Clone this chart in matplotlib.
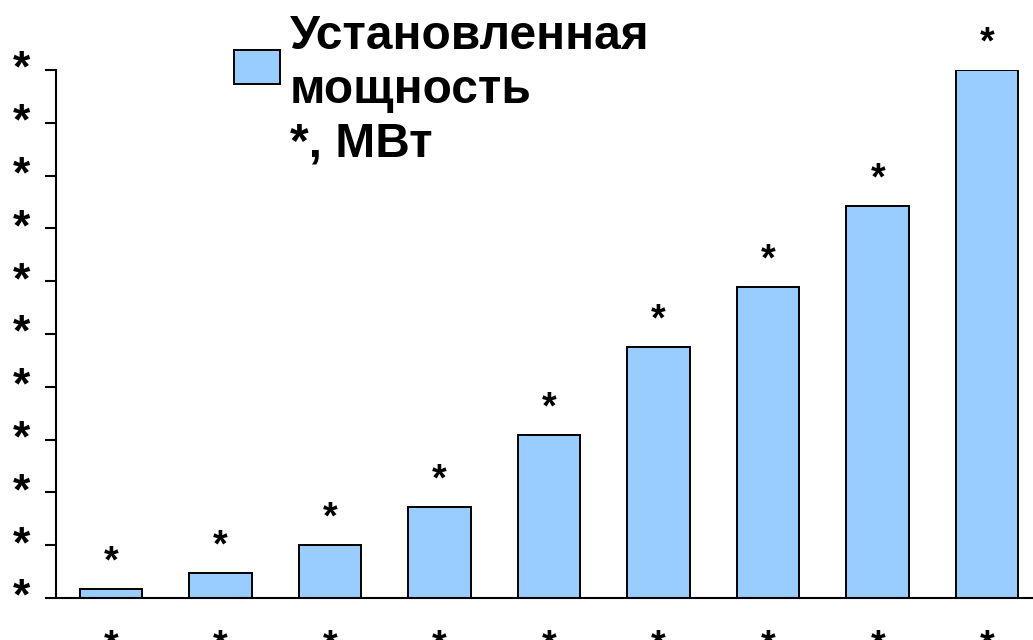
import matplotlib.pyplot as plt
from matplotlib.patches import Rectangle
from matplotlib.transforms import ScaledTranslation

plt.rcParams['font.family'] = ['Liberation Sans', 'DejaVu Sans']
plt.rcParams['font.weight'] = 'bold'

# installed capacity per period (labels hidden as "*")
periods = ['*', '*', '*', '*', '*', '*', '*', '*', '*']
capacity = [1.7, 4.7, 10.0, 17.2, 30.9, 47.5, 58.9, 74.2, 100.0]
bar_labels = ['*'] * len(capacity)
y_ticks = [0, 10, 20, 30, 40, 50, 60, 70, 80, 90, 100]
y_tick_labels = ['*'] * len(y_ticks)
legend_label = 'Установленная\nмощность\n*, МВт'

fig = plt.figure(figsize=(10.33, 6.4), dpi=100)
ax = fig.add_axes([56 / 1033, 42 / 640, 986 / 1033, 528 / 640])

bars = ax.bar(range(len(capacity)), capacity, width=0.57,
              color='#99CCFF', edgecolor='black', linewidth=1.4)
ax.bar_label(bars, labels=bar_labels, padding=6, fontsize=27, fontweight='bold')

ax.set_xlim(-0.5, 8.5)
ax.set_ylim(0, 100)
ax.set_xticks(range(len(periods)))
ax.set_xticklabels(periods, fontsize=27, fontweight='bold')
ax.set_yticks(y_ticks)
ax.set_yticklabels(y_tick_labels, fontsize=32, fontweight='bold')
ax.tick_params(axis='x', length=0, pad=22)
ax.tick_params(axis='y', length=8, width=1.5, pad=11)

# lift the y tick stars a little
lift = ScaledTranslation(0, 3 / 72, fig.dpi_scale_trans)
for lbl in ax.get_yticklabels():
    lbl.set_transform(lbl.get_transform() + lift)

for side in ['top', 'right']:
    ax.spines[side].set_visible(False)
for side in ['left', 'bottom']:
    ax.spines[side].set_linewidth(1.5)

# legend key and caption
fig.patches.append(Rectangle((234 / 1033, 1 - 84 / 640), 46 / 1033, 34 / 640,
                             transform=fig.transFigure, facecolor='#99CCFF',
                             edgecolor='black', linewidth=1.4))
fig.text(290 / 1033, 1 - 14 / 640, legend_label, fontsize=34.5, fontweight='bold',
         va='top', ha='left', linespacing=1.25)

fig.savefig('out.png', dpi=100)
